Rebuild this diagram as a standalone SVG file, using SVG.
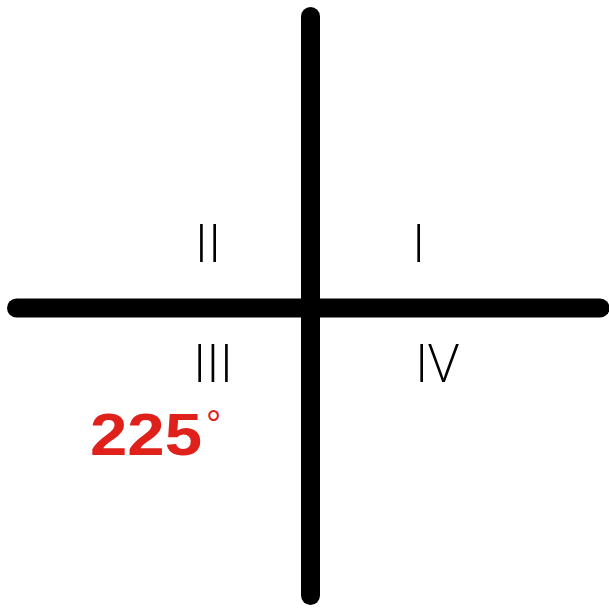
<svg xmlns="http://www.w3.org/2000/svg" width="609" height="610" viewBox="0 0 609 610">
<style>
.axis{stroke:#000;stroke-width:19;stroke-linecap:round;fill:none}
.q{font-family:"Open Sans","Liberation Sans",sans-serif;font-weight:350;font-size:53px;fill:#000;text-anchor:middle}
.ang{font-family:"Liberation Sans","Open Sans",sans-serif;font-weight:bold;font-size:59px;fill:#e0201b}
</style>
<rect width="609" height="610" fill="#fff"/>
<g id="axes">
<line class="axis" x1="16.5" y1="308" x2="600" y2="308"/>
<line class="axis" x1="310.5" y1="16.5" x2="310.5" y2="595.5"/>
</g>
<g id="q1"><text class="q" x="418.7" y="262">I</text></g>
<g id="q2"><text class="q" x="208" y="262">II</text></g>
<g id="q3"><text class="q" x="213" y="382">III</text></g>
<g id="q4"><text class="q" x="437" y="382">IV</text></g>
<g id="angle"><text class="ang" x="90" y="455"><tspan textLength="112" lengthAdjust="spacingAndGlyphs">225</tspan><tspan x="206" y="437" font-size="38" font-weight="normal">°</tspan></text></g>
</svg>
